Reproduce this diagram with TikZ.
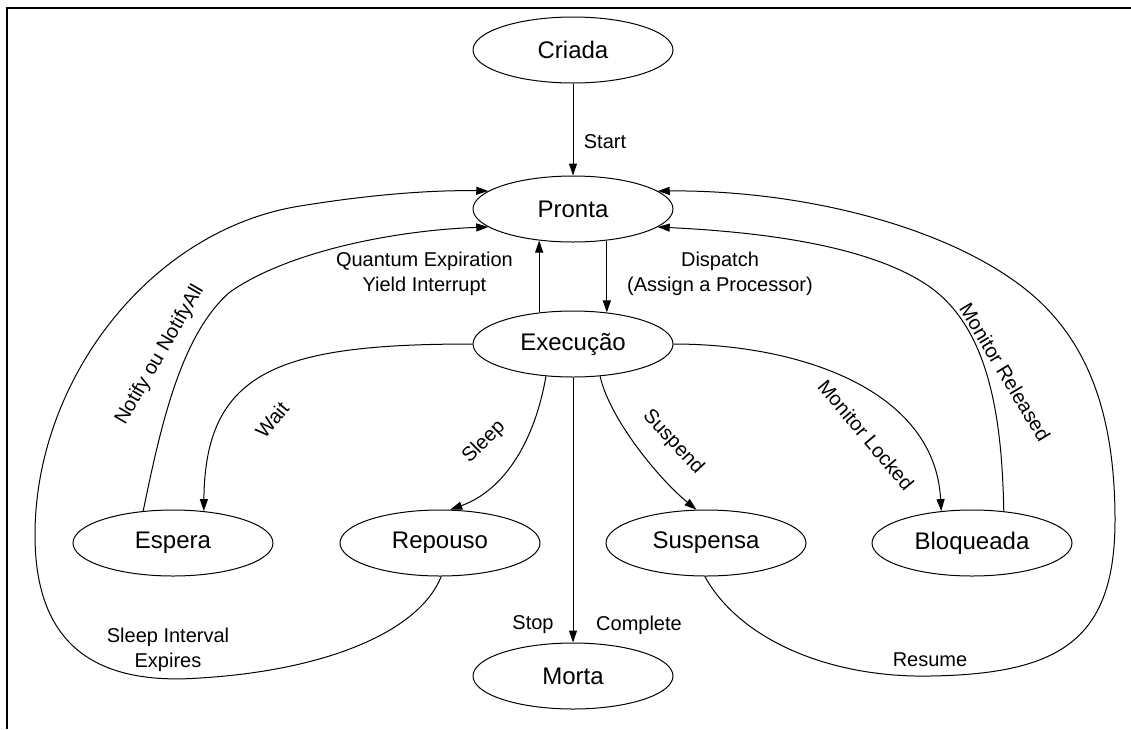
\documentclass[tikz,border=0pt]{standalone}
\usepackage{fontspec}
\setmainfont{Liberation Sans}
\usetikzlibrary{arrows.meta,shapes.geometric}
\begin{document}
\tikzset{
  stnode/.style={draw, ellipse, line width=1pt, minimum width=200pt, minimum height=66pt,
    inner sep=0pt, font=\fontsize{24}{28}\selectfont},
  lbl/.style={font=\fontsize{20}{25}\selectfont, inner sep=1pt, align=center},
  flow/.style={line width=1pt, -{Triangle[length=12pt,width=8pt]}},
  frameline/.style={line width=2.2pt}
}
\begin{tikzpicture}[x=1pt,y=-1pt]
\useasboundingbox (0,0) rectangle (1131,729);
\fill[white] (0,0) rectangle (1131,729);
\draw[frameline] (7,729) -- (7,8) -- (1131,8);

% states
\node[stnode] (criada)   at (573,50)  {Criada};
\node[stnode] (pronta)   at (573,209) {Pronta};
\node[stnode] (exec)     at (573,344) {Execução};
\node[stnode] (espera)   at (173,543) {Espera};
\node[stnode] (repouso)  at (440,543) {Repouso};
\node[stnode] (suspensa) at (706,543) {Suspensa};
\node[stnode] (bloq)     at (972,543) {Bloqueada};
\node[stnode] (morta)    at (573,676) {Morta};

% straight transitions
\draw[flow] (criada) -- (pronta);
\draw[flow] (exec.137) -- (pronta.223);
\draw[flow] (pronta.317) -- (exec.43);
\draw[flow] (exec) -- (morta);

% from Execucao to the waiting states
\draw[flow] (exec.180) .. controls (280,344) and (205,370) .. (espera.46);
\draw[flow] (exec.230) .. controls (535,440) and (505,490) .. (repouso.73);
\draw[flow] (exec.310) .. controls (610,420) and (660,480) .. (suspensa.106);
\draw[flow] (exec.0) .. controls (800,344) and (935,390) .. (bloq.134);

% back to Pronta
\draw[flow] (espera.133) .. controls (160,430) and (180,335) .. (230,292)
  .. controls (290,250) and (400,230) .. (pronta.192);
\draw[flow] (repouso.272) .. controls (420,630) and (330,670) .. (200,678)
  .. controls (90,686) and (35,640) .. (35,535)
  .. controls (35,380) and (150,230) .. (300,206)
  .. controls (380,193) and (440,190) .. (pronta.168);
\draw[flow] (bloq.45) .. controls (1002,420) and (990,330) .. (930,287)
  .. controls (870,245) and (760,232) .. (pronta.348);
\draw[flow] (suspensa.268) .. controls (740,640) and (830,678) .. (930,676)
  .. controls (1060,674) and (1115,640) .. (1115,520)
  .. controls (1115,400) and (1080,330) .. (1020,285)
  .. controls (940,225) and (800,190) .. (pronta.12);

% labels
\node[lbl] (lstart) at (605,142) {Start};
\node[lbl, anchor=east] (lquantum) at (514,274) {Quantum Expiration\\Yield Interrupt};
\node[lbl, anchor=west] (ldispatch) at (626,274) {Dispatch\\(Assign a Processor)};
\node[lbl, rotate=60] (lnotify) at (160,355) {Notify ou NotifyAll};
\node[lbl, rotate=50] (lwait) at (272,420) {Wait};
\node[lbl, rotate=45] (lsleep) at (484,442) {Sleep};
\node[lbl, rotate=-47] (lsuspend) at (673,442) {Suspend};
\node[lbl, rotate=-50] (llocked) at (866,435) {Monitor Locked};
\node[lbl, rotate=-59] (lreleased) at (1005,372) {Monitor Released};
\node[lbl] (linterval) at (168,650) {Sleep Interval\\Expires};
\node[lbl] (lstop) at (533,625) {Stop};
\node[lbl] (lcomplete) at (639,625) {Complete};
\node[lbl] (lresume) at (930,660) {Resume};
\end{tikzpicture}
\end{document}
